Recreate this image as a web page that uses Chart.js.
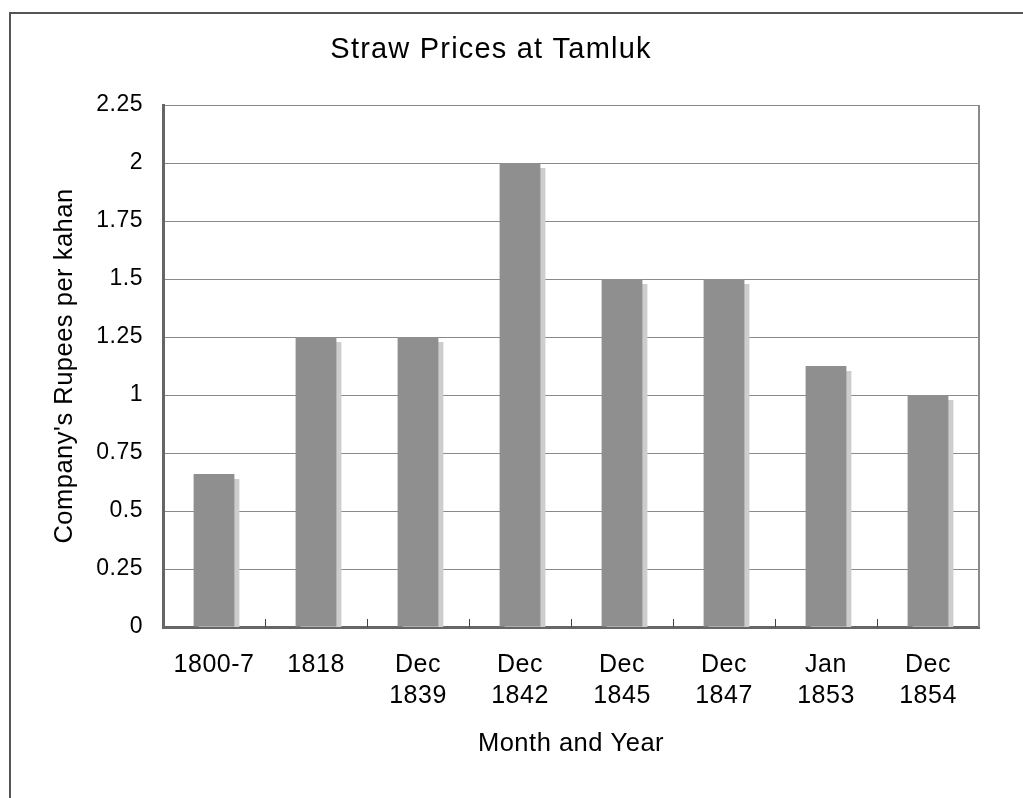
<!DOCTYPE html>
<html>
<head>
<meta charset="utf-8">
<script src="https://cdn.jsdelivr.net/npm/chart.js@4.4.1/dist/chart.umd.min.js"></script>
<style>
  html, body { margin: 0; padding: 0; background: #fff; }
  #frame { position: absolute; left: 9px; top: 12px; width: 1014px; height: 786px;
           border-top: 2px solid #555; border-left: 2px solid #555; box-sizing: border-box; }
  #wrap { position: absolute; left: 0; top: 0; width: 1023px; height: 798px; }
</style>
</head>
<body>
<div id="frame"></div>
<div id="wrap"><canvas id="c" width="1023" height="798"></canvas></div>
<script>
const chartTitle = "Straw Prices at Tamluk";
const xAxisTitle = "Month and Year";
const yAxisTitle = "Company's Rupees per kahan";
const categories = [["1800-7"], ["1818"], ["Dec", "1839"], ["Dec", "1842"], ["Dec", "1845"], ["Dec", "1847"], ["Jan", "1853"], ["Dec", "1854"]];
const prices = [0.66, 1.25, 1.25, 2, 1.5, 1.5, 1.125, 1];
const yTicks = [0, 0.25, 0.5, 0.75, 1, 1.25, 1.5, 1.75, 2, 2.25];

const FONT = "'Liberation Sans', Arial, sans-serif";

const decor = {
  id: 'decor',
  beforeDraw(chart) {
    chart.ctx.letterSpacing = '0.5px';
  },
  beforeDatasetDraw(chart) {
    const ctx = chart.ctx;
    ctx.save();
    ctx.shadowColor = '#cdcdcd';
    ctx.shadowOffsetX = 5;
    ctx.shadowOffsetY = 5;
    ctx.shadowBlur = 0;
  },
  afterDatasetDraw(chart) {
    chart.ctx.restore();
  },
  afterDraw(chart) {
    const ctx = chart.ctx;
    const a = chart.chartArea;
    const xs = chart.scales.x;
    ctx.save();
    // right border of plot area
    ctx.strokeStyle = '#8a8a8a';
    ctx.lineWidth = 2;
    ctx.beginPath();
    ctx.moveTo(a.right, a.top);
    ctx.lineTo(a.right, a.bottom);
    ctx.stroke();
    // inward tick marks on x axis at category boundaries
    ctx.strokeStyle = '#444';
    ctx.lineWidth = 1;
    for (let i = 1; i < categories.length; i++) {
      const x = Math.round((xs.getPixelForValue(i - 1) + xs.getPixelForValue(i)) / 2) + 0.5;
      ctx.beginPath();
      ctx.moveTo(x, a.bottom - 8);
      ctx.lineTo(x, a.bottom);
      ctx.stroke();
    }
    // title
    ctx.fillStyle = '#000';
    ctx.letterSpacing = '1.2px';
    ctx.font = '29px ' + FONT;
    ctx.textAlign = 'center';
    ctx.textBaseline = 'alphabetic';
    ctx.fillText(chartTitle, 491, 58);
    ctx.restore();
  }
};

new Chart(document.getElementById('c'), {
  type: 'bar',
  data: {
    labels: categories,
    datasets: [{
      data: prices,
      backgroundColor: '#8f8f8f',
      borderWidth: 0,
      barPercentage: 0.4,
      categoryPercentage: 1.0,
      clip: 0
    }]
  },
  options: {
    responsive: false,
    animation: false,
    events: [],
    layout: { padding: { top: 105, right: 44, left: 0, bottom: 0 } },
    plugins: { legend: { display: false }, tooltip: { enabled: false }, title: { display: false } },
    scales: {
      x: {
        afterFit(s) { s.height = 171; },
        grid: { display: false, drawTicks: false },
        border: { display: true, color: '#666', width: 3 },
        ticks: { color: '#000', font: { family: FONT, size: 25, lineHeight: 1.24 }, padding: 23, maxRotation: 0, autoSkip: false },
        title: { display: true, text: xAxisTitle, color: '#000', font: { family: FONT, size: 25.5, lineHeight: 1.2 }, padding: { top: 39, bottom: 39 } }
      },
      y: {
        min: 0, max: 2.25,
        afterFit(s) { s.width = 163; },
        afterBuildTicks(s) { s.ticks = yTicks.map(v => ({ value: v })); },
        grid: { color: '#8a8a8a', lineWidth: 1, drawTicks: false },
        border: { display: true, color: '#666', width: 3 },
        ticks: { color: '#000', font: { family: FONT, size: 23 }, padding: 20, callback: v => String(v) },
        title: { display: true, text: yAxisTitle, color: '#000', font: { family: FONT, size: 25.5, lineHeight: 1.2 }, padding: { top: 50, bottom: 50 } }
      }
    }
  },
  plugins: [decor]
});
</script>
</body>
</html>
